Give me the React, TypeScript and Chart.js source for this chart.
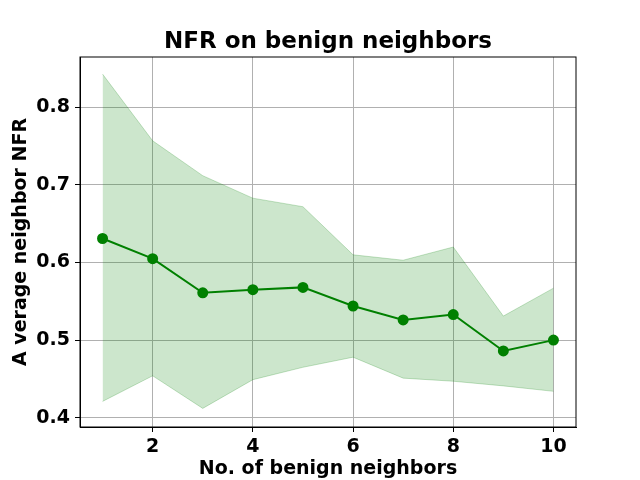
import { useEffect, useRef } from 'react';
import { Chart, registerables } from 'chart.js';

Chart.register(...registerables);

const neighbors = [1, 2, 3, 4, 5, 6, 7, 8, 9, 10];
const meanNfr = [0.631, 0.605, 0.561, 0.565, 0.568, 0.544, 0.526, 0.533, 0.486, 0.5];
const upperNfr = [0.843, 0.757, 0.712, 0.683, 0.672, 0.61, 0.603, 0.62, 0.531, 0.567];
const lowerNfr = [0.421, 0.454, 0.412, 0.449, 0.465, 0.478, 0.451, 0.447, 0.441, 0.434];
const xTicks = [2, 4, 6, 8, 10];
const yTicks = [0.4, 0.5, 0.6, 0.7, 0.8];
const chartTitle = 'NFR on benign neighbors';

const FONT = "'DejaVu Sans', sans-serif";

// matplotlib draws all four spines and centres the title over the axes
const framePlugin = {
  id: 'frame',
  afterDraw(chart: any) {
    const { ctx, chartArea } = chart;
    ctx.save();
    ctx.strokeStyle = '#000';
    ctx.lineWidth = 1;
    ctx.strokeRect(chartArea.left, chartArea.top, chartArea.right - chartArea.left, chartArea.bottom - chartArea.top);
    ctx.fillStyle = '#000';
    ctx.font = `bold 23px ${FONT}`;
    ctx.textAlign = 'center';
    ctx.textBaseline = 'alphabetic';
    ctx.fillText(chartTitle, (chartArea.left + chartArea.right) / 2, 48);
    ctx.restore();
  },
};

const App = () => {
  const canvasRef = useRef<HTMLCanvasElement | null>(null);
  const chartRef = useRef<Chart | null>(null);

  useEffect(() => {
    document.body.style.margin = '0';
    if (!canvasRef.current) return;
    if (chartRef.current) chartRef.current.destroy();

    const toPoints = (vals: number[]) => neighbors.map((x, i) => ({ x, y: vals[i] }));

    chartRef.current = new Chart(canvasRef.current, {
      type: 'line',
      data: {
        datasets: [
          {
            label: 'mean',
            data: toPoints(meanNfr),
            borderColor: '#008000',
            backgroundColor: '#008000',
            borderWidth: 2,
            pointRadius: 4.5,
            pointBackgroundColor: '#008000',
            pointBorderColor: '#008000',
            fill: false,
            order: 0,
          },
          {
            label: 'upper',
            data: toPoints(upperNfr),
            borderColor: 'rgba(0,128,0,0.22)',
            backgroundColor: 'rgba(0,128,0,0.2)',
            borderWidth: 1,
            pointRadius: 0,
            fill: '+1',
            order: 1,
          },
          {
            label: 'lower',
            data: toPoints(lowerNfr),
            borderColor: 'rgba(0,128,0,0.22)',
            backgroundColor: 'rgba(0,128,0,0.2)',
            borderWidth: 1,
            pointRadius: 0,
            fill: false,
            order: 2,
          },
        ],
      },
      options: {
        responsive: false,
        animation: false,
        devicePixelRatio: 1,
        layout: { padding: { left: 0, right: 64, top: 57, bottom: 0 } },
        plugins: {
          legend: { display: false },
          tooltip: { enabled: false },
          title: { display: false },
        },
        scales: {
          x: {
            type: 'linear',
            min: 0.55,
            max: 10.45,
            afterBuildTicks: (scale: any) => {
              scale.ticks = xTicks.map((v) => ({ value: v }));
            },
            afterFit: (scale: any) => {
              scale.height = 53;
            },
            ticks: {
              color: '#000',
              padding: 6,
              font: { family: FONT, size: 19, weight: 'bold', lineHeight: 1 },
              callback: (v: any) => String(v),
            },
            grid: { color: '#b0b0b0', lineWidth: 1, tickColor: '#000', tickLength: 5, drawTicks: true },
            border: { display: true, color: '#000', width: 1 },
            title: {
              display: true,
              text: 'No. of benign neighbors',
              color: '#000',
              font: { family: FONT, size: 19, weight: 'bold', lineHeight: 1.2 },
              padding: { top: 0, bottom: 0 },
            },
          },
          y: {
            type: 'linear',
            min: 0.388,
            max: 0.865,
            afterBuildTicks: (scale: any) => {
              scale.ticks = yTicks.map((v) => ({ value: v }));
            },
            afterFit: (scale: any) => {
              scale.width = 80;
            },
            ticks: {
              color: '#000',
              padding: 5,
              font: { family: FONT, size: 19, weight: 'bold', lineHeight: 1 },
              callback: (v: any) => Number(v).toFixed(1),
            },
            grid: { color: '#b0b0b0', lineWidth: 1, tickColor: '#000', tickLength: 5, drawTicks: true },
            border: { display: true, color: '#000', width: 1 },
            title: {
              display: true,
              text: 'A verage neighbor NFR',
              color: '#000',
              font: { family: FONT, size: 19, weight: 'bold', lineHeight: 1.2 },
              padding: { top: 9.6, bottom: 0 },
            },
          },
        },
      },
      plugins: [framePlugin],
    });

    return () => {
      if (chartRef.current) {
        chartRef.current.destroy();
        chartRef.current = null;
      }
    };
  }, []);

  return (
    <div style={{ width: 640, height: 480, background: '#fff' }}>
      <canvas ref={canvasRef} width={640} height={480} style={{ display: 'block', width: 640, height: 480 }} />
    </div>
  );
};

export default App;
